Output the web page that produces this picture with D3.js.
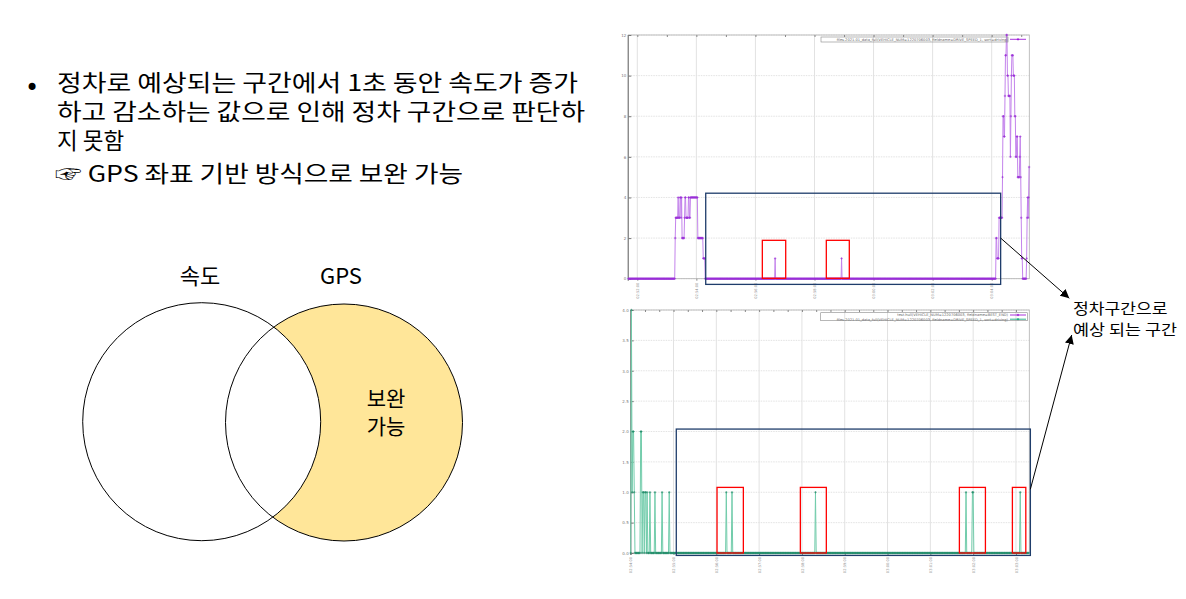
<!DOCTYPE html>
<html><head><meta charset="utf-8">
<script src="https://cdn.jsdelivr.net/npm/d3@7"></script>
<style>body{margin:0;background:#fff}svg{display:block}</style>
</head><body>
<svg id="c" width="1186" height="599"></svg>
<script>
// ---------------- DATA ----------------
// Top chart: speed series, 1 sample per second, run-length [value, count], starting at t = -18 s
const topStart = -18;
const topSpeedRuns = [
  [0,95],
  [2,1],[3,5],[4,1],[3,3],[4,2],[3,1],[4,1],[2,5],[3,1],[4,2],[3,5],[4,2],[3,2],[4,15],[2,11],[1,4],
  [0,142],[1,1],[0,134],[1,1],[0,313],
  [2,2],[1,4],[3,7],[5,1],[8,2],[7,2],[9,1],[11,2],[12,2],[10,2],[9,4],[6,1],[8,1],[10,1],[11,3],
  [10,3],[8,2],[6,2],[7,2],[5,4],[6,1],[7,1],[5,1],[3,1],[1,2],[0,8],[1,1],[3,1],[4,1],[3,1],[4,1],[5.5,1]
];
// Bottom chart: speed series, run-length, starting at t = 0 s
const botStart = 0;
const botSpeedRuns = [
  [0,1],[4,1],[1,1],[2,2],[1,1],[0,8],[2,2],[0,1],[1,2],[0,1],[1,2],[0,1],[1,1],[0,3],[1,1],[0,6],
  [1,1],[0,9],[1,1],[0,9],[1,1],[0,79],[1,1],[0,7],[1,1],[0,116],[1,1],[0,210],[1,1],[0,8],[1,2],
  [0,65],[1,1],[0,12]
];
const topYTicks = [0,2,4,6,8,10,12];
const botYTicks = [0,0.5,1,1.5,2,2.5,3,3.5,4];
const topXTicks = [0,120,240,360,480,600,720];
const topXLabels = ["02:52:00","02:54:00","02:56:00","02:58:00","03:00:00","03:02:00","03:04:00"];
const botXTicks = [0,60,120,180,240,300,360,420,480,540];
const botXLabels = ["02:54:00","02:55:00","02:56:00","02:57:00","02:58:00","02:59:00","03:00:00","03:01:00","03:02:00","03:03:00"];
const topLegend = ["files.2021.01_data_full(VEHICLE_NUM=1220706003, fieldname=DRIVE_SPEED_1, sort=driving)"];
const botLegend = ["test.hull(VEHICLE_NUM=1220706003, fieldname=BEST_END)",
                   "files.2021.01_data_full(VEHICLE_NUM=1220706003, fieldname=DRIVE_SPEED_1, sort=driving)"];
// annotation boxes [t0, t1, v0, v1]
const topStopZone = [139, 738.2, -0.28, 4.21];
const topFalseMoves = [[254,301.5,0.02,1.89],[384,430.7,0.02,1.89]];
const botStopZone = [63.9, 560.2, -0.04, 2.04];
const botFalseMoves = [[121,157.9,0,1.08],[237.8,274.2,0,1.08],[460.7,497.2,0,1.08],[535,553.8,0,1.08]];
const bulletLines = ["정차로 예상되는 구간에서 1초 동안 속도가 증가","하고 감소하는 값으로 인해 정차 구간으로 판단하","지 못함"];
const noteLine = "☞ GPS 좌표 기반 방식으로 보완 가능";
const vennSets = ["속도","GPS"];
const vennOnlyLabel = ["보완","가능"];
const calloutLines = ["정차구간으로","예상 되는 구간"];

// ---------------- HELPERS ----------------
function expand(start, runs){
  const out=[]; let t=start;
  runs.forEach(([v,n])=>{ for(let i=0;i<n;i++){ out.push({t:t, v:v}); t++; } });
  return out;
}
const svg = d3.select("#c");
const KR = "'Noto Sans CJK KR','Noto Sans',sans-serif";

function chart(cfg){
  const g = svg.append("g");
  const x = d3.scaleLinear().domain(cfg.xDomain).range(cfg.xRange);
  const y = d3.scaleLinear().domain(cfg.yDomain).range(cfg.yRange);
  const [x0,x1]=cfg.xRange, [yb,yt]=cfg.yRange;
  g.selectAll(".gy").data(cfg.yTicks).join("line")
    .attr("x1",x0).attr("x2",x1).attr("y1",d=>y(d)).attr("y2",d=>y(d))
    .attr("stroke","#dcdcdc").attr("stroke-width",0.8).attr("stroke-dasharray","1.5,1");
  g.selectAll(".gx").data(cfg.xTicks).join("line")
    .attr("x1",d=>x(d)).attr("x2",d=>x(d)).attr("y1",yb).attr("y2",yt)
    .attr("stroke","#e2e2e2").attr("stroke-width",1);
  g.append("rect").attr("x",x0).attr("y",yt).attr("width",x1-x0).attr("height",yb-yt)
    .attr("fill","none").attr("stroke","#b0b0b0").attr("stroke-width",0.8);
  g.append("line").attr("x1",x0).attr("x2",x0).attr("y1",yt).attr("y2",yb+2)
    .attr("stroke","#8c8c8c").attr("stroke-width",1.4);
  const ay = g.append("g").attr("transform",`translate(${x0},0)`)
    .call(d3.axisLeft(y).tickValues(cfg.yTicks).tickSize(-3).tickPadding(2));
  ay.select(".domain").remove();
  ay.selectAll("line").attr("stroke","#777");
  ay.selectAll("text").attr("font-size",4).attr("fill","#777").attr("font-family","DejaVu Sans");
  const ax = g.append("g").attr("transform",`translate(0,${yt})`)
    .call(d3.axisTop(x).tickValues(cfg.minorTicks).tickSize(-2).tickFormat(""));
  ax.select(".domain").remove(); ax.selectAll("line").attr("stroke","#888");
  const axb = g.append("g").attr("transform",`translate(0,${yb})`)
    .call(d3.axisBottom(x).tickValues(cfg.xTicks).tickSize(2).tickFormat((d,i)=>cfg.xLabels[i]));
  axb.select(".domain").remove(); axb.selectAll("line").attr("stroke","#888");
  axb.selectAll("text").attr("font-size",3.6).attr("fill","#8a8a8a").attr("font-family","DejaVu Sans")
    .attr("text-anchor","end").attr("dy",0).attr("y",0)
    .attr("transform","translate(1.2,4) rotate(-90)");
  const data = expand(cfg.start, cfg.runs);
  const line = d3.line().x(d=>x(d.t)).y(d=>y(d.v));
  g.append("path").datum(data).attr("d",line).attr("fill","none")
    .attr("stroke",cfg.lineColor).attr("stroke-width",1).attr("stroke-linejoin","round");
  g.selectAll(".pt").data(data).join("path")
    .attr("transform",d=>`translate(${x(d.t)},${y(d.v)})`)
    .attr("d","M-1.2,0h2.4M0,-1.2v2.4").attr("stroke",cfg.markColor).attr("stroke-width",0.6);
  const lg = g.append("g");
  cfg.legend.forEach((txt,i)=>{
    const ly = cfg.legendY + i*4.2;
    lg.append("text").attr("x",cfg.legendX).attr("y",ly+1.3).attr("text-anchor","end")
      .attr("font-size",3.6).attr("font-family","DejaVu Sans").attr("fill","#666").text(txt);
    lg.append("line").attr("x1",cfg.legendX+2).attr("x2",cfg.legendX+18).attr("y1",ly).attr("y2",ly)
      .attr("stroke",cfg.legendColors[i]).attr("stroke-width",0.8);
    lg.append("path").attr("transform",`translate(${cfg.legendX+10},${ly})`)
      .attr("d","M-1.2,0h2.4M0,-1.2v2.4").attr("stroke",cfg.legendColors[i]).attr("stroke-width",0.7);
  });
  lg.append("rect").attr("x",cfg.legendBox[0]).attr("y",cfg.legendBox[1])
    .attr("width",cfg.legendBox[2]).attr("height",cfg.legendBox[3])
    .attr("fill","none").attr("stroke","#888").attr("stroke-width",0.6);
  const box = (b,color,w)=>g.append("rect").attr("x",x(b[0])).attr("y",y(b[3]))
    .attr("width",x(b[1])-x(b[0])).attr("height",y(b[2])-y(b[3]))
    .attr("fill","none").attr("stroke",color).attr("stroke-width",w);
  box(cfg.stopZone,"#1f3d6b",1.3);
  cfg.falseMoves.forEach(b=>box(b,"#ff0000",1.3));
  return {x,y};
}

const topChart = chart({
  start: topStart, runs: topSpeedRuns,
  xDomain:[-18.3,796.4], xRange:[628.3,1029.3], yDomain:[0,12], yRange:[278.7,35],
  yTicks: topYTicks, xTicks: topXTicks, xLabels: topXLabels,
  minorTicks: d3.range(0,796,60),
  lineColor:"#c484ec", markColor:"#9a2fd6",
  legend: topLegend, legendColors:["#9400d3"], legendX:1008, legendY:39.3, legendBox:[821,37,187,5],
  stopZone: topStopZone, falseMoves: topFalseMoves
});
const botChart = chart({
  start: botStart, runs: botSpeedRuns,
  xDomain:[0,558.7], xRange:[630.7,1029.3], yDomain:[0,4], yRange:[553,310],
  yTicks: botYTicks, xTicks: botXTicks, xLabels: botXLabels,
  minorTicks: d3.range(0,558,20),
  lineColor:"#72ccab", markColor:"#1d8a66",
  legend: botLegend, legendColors:["#9400d3","#009e73"], legendX:1008, legendY:315, legendBox:[820.7,312.7,207,8],
  stopZone: botStopZone, falseMoves: botFalseMoves
});

svg.append("defs").append("marker").attr("id","ah").attr("viewBox","0 0 10 10")
  .attr("refX",10).attr("refY",5).attr("markerWidth",9).attr("markerHeight",9)
  .attr("markerUnits","userSpaceOnUse").attr("orient","auto")
  .append("path").attr("d","M0,0L10,5L0,10z").attr("fill","#000");
const tip1 = [1069.3,298.3], tip2 = [1071.7,335];
svg.append("line").attr("x1",topChart.x(738.2)).attr("y1",topChart.y(2)).attr("x2",tip1[0]).attr("y2",tip1[1])
  .attr("stroke","#000").attr("stroke-width",1).attr("marker-end","url(#ah)");
svg.append("line").attr("x1",botChart.x(560.2)).attr("y1",botChart.y(1.05)).attr("x2",tip2[0]).attr("y2",tip2[1])
  .attr("stroke","#000").attr("stroke-width",1).attr("marker-end","url(#ah)");
const coLen = [94.6, 104];
svg.selectAll(".co").data(calloutLines).join("text")
  .attr("x",1073).attr("y",(d,i)=>313.5+i*21.5).attr("font-size",15).attr("font-family",KR)
  .attr("textLength",(d,i)=>coLen[i]).attr("lengthAdjust","spacingAndGlyphs")
  .attr("fill","#000").text(d=>d);

const lineLen = [521, 528, null];
svg.append("text").attr("x",25).attr("y",95.5).attr("font-size",24).attr("font-family","DejaVu Sans").text("•");
svg.selectAll(".bl").data(bulletLines).join("text")
  .attr("x",57).attr("y",(d,i)=>91+i*29).attr("font-size",22.5).attr("font-family",KR)
  .attr("fill","#000").each(function(d,i){ if(lineLen[i]) d3.select(this).attr("textLength",lineLen[i]).attr("lengthAdjust","spacingAndGlyphs"); })
  .text(d=>d);
svg.append("text").attr("x",55).attr("y",182).attr("font-size",22.5).attr("font-family",KR)
  .attr("textLength",408).attr("lengthAdjust","spacingAndGlyphs")
  .attr("fill","#000").text(noteLine);

const L = {cx:201.7, cy:421.7, r:119}, R = {cx:344, cy:422.5, r:118.5};
svg.append("circle").attr("cx",R.cx).attr("cy",R.cy).attr("r",R.r).attr("fill","#ffe699");
svg.append("circle").attr("cx",L.cx).attr("cy",L.cy).attr("r",L.r).attr("fill","#fff");
[L,R].forEach(c=>svg.append("circle").attr("cx",c.cx).attr("cy",c.cy).attr("r",c.r)
  .attr("fill","none").attr("stroke","#000").attr("stroke-width",1));
svg.selectAll(".vs").data(vennSets).join("text")
  .attr("x",(d,i)=>i?341:200).attr("y",284).attr("text-anchor","middle")
  .attr("font-size",22).attr("font-family",KR).text(d=>d);
svg.selectAll(".vo").data(vennOnlyLabel).join("text")
  .attr("x",386).attr("y",(d,i)=>406+i*28).attr("text-anchor","middle")
  .attr("font-size",21).attr("font-family",KR).text(d=>d);
</script>
</body></html>
